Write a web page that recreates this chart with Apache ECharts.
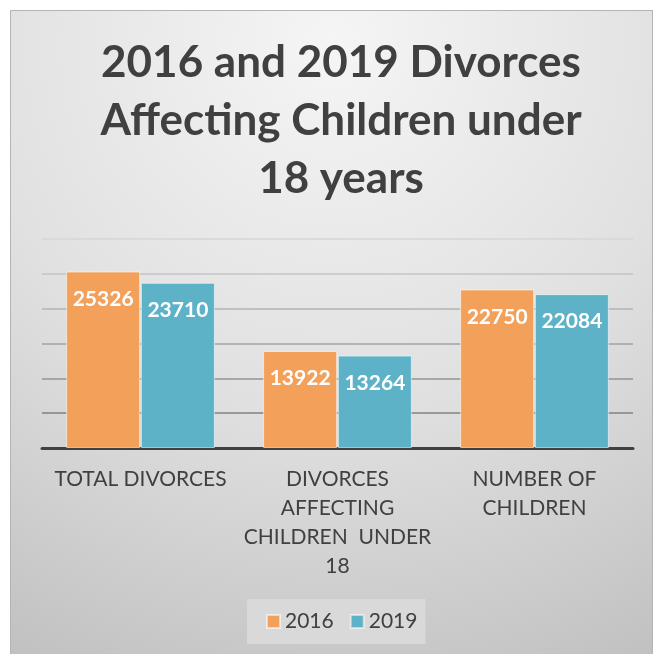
<!DOCTYPE html>
<html>
<head>
<meta charset="utf-8">
<script src="https://cdn.jsdelivr.net/npm/echarts@6/dist/echarts.min.js"></script>
<style>
  html, body { margin: 0; padding: 0; background: #ffffff; width: 653px; height: 654px; overflow: hidden; }
  #frame { position: absolute; left: 10px; top: 10px; width: 641px; height: 652px; border: 1px solid #b4b4b4; }
  #chart { width: 641px; height: 652px; }
</style>
</head>
<body>
<div id="frame"><div id="chart"></div></div>
<script>
const titleText = '2016 and 2019 Divorces\nAffecting Children under\n18 years';
const categories = ['TOTAL DIVORCES', 'DIVORCES\nAFFECTING\nCHILDREN  UNDER\n18', 'NUMBER OF\nCHILDREN'];
const seriesNames = ['2016', '2019'];
const values2016 = [25326, 13922, 22750];
const values2019 = [23710, 13264, 22084];
const yMin = 0, yMax = 30000, yStep = 5000;

const chart = echarts.init(document.getElementById('chart'), null, { renderer: 'canvas' });
const labelStyle = {
  show: true, position: 'insideTop', distance: 17,
  color: '#ffffff', fontFamily: 'Lato', fontWeight: 'bold', fontSize: 21, lineHeight: 21
};
chart.setOption({
  backgroundColor: {
    type: 'radial', x: 0.5, y: 0.05, r: 1.15,
    colorStops: [{ offset: 0, color: '#f5f5f5' }, { offset: 0.5, color: '#e0e0e0' }, { offset: 1, color: '#bcbcbc' }]
  },
  animation: false,
  title: {
    text: titleText, left: 325, top: 18, textAlign: 'center',
    textStyle: { fontFamily: 'Lato', fontWeight: 'bold', fontSize: 44, lineHeight: 58, color: '#404040' }
  },
  legend: {
    data: seriesNames, left: 236, top: 588, orient: 'horizontal',
    padding: [12, 8, 12, 19], backgroundColor: '#d9d9d9',
    itemWidth: 13, itemHeight: 13, itemGap: 16, icon: 'rect',
    textStyle: { fontFamily: 'Lato', fontSize: 21, lineHeight: 21, color: '#404040' }
  },
  grid: { left: 31, right: 19, top: 228, bottom: 215, containLabel: false },
  xAxis: {
    type: 'category', data: categories,
    axisLine: { show: true, lineStyle: { color: '#404040', width: 3 } },
    axisTick: { show: false },
    axisLabel: { interval: 0, margin: 17, fontFamily: 'Lato', fontSize: 21, lineHeight: 29, color: '#404040', align: 'center' }
  },
  yAxis: {
    type: 'value', min: yMin, max: yMax, interval: yStep,
    axisLabel: { show: false }, axisLine: { show: false }, axisTick: { show: false },
    splitLine: { show: true, lineStyle: { width: 1.5, color: ['#404040', '#828282', '#939393', '#a3a3a3', '#b3b3b3', '#c4c4c4', '#d6d6d6'] } }
  },
  series: [
    {
      name: seriesNames[0], type: 'bar', data: values2016, barWidth: 74, barGap: '1%',
      itemStyle: { color: '#F3A05B', borderColor: 'rgba(255,255,255,0.55)', borderWidth: 1 },
      label: labelStyle
    },
    {
      name: seriesNames[1], type: 'bar', data: values2019, barWidth: 74, barGap: '1%',
      itemStyle: { color: '#5EB2C8', borderColor: 'rgba(255,255,255,0.55)', borderWidth: 1 },
      label: labelStyle
    }
  ]
});
</script>
</body>
</html>
